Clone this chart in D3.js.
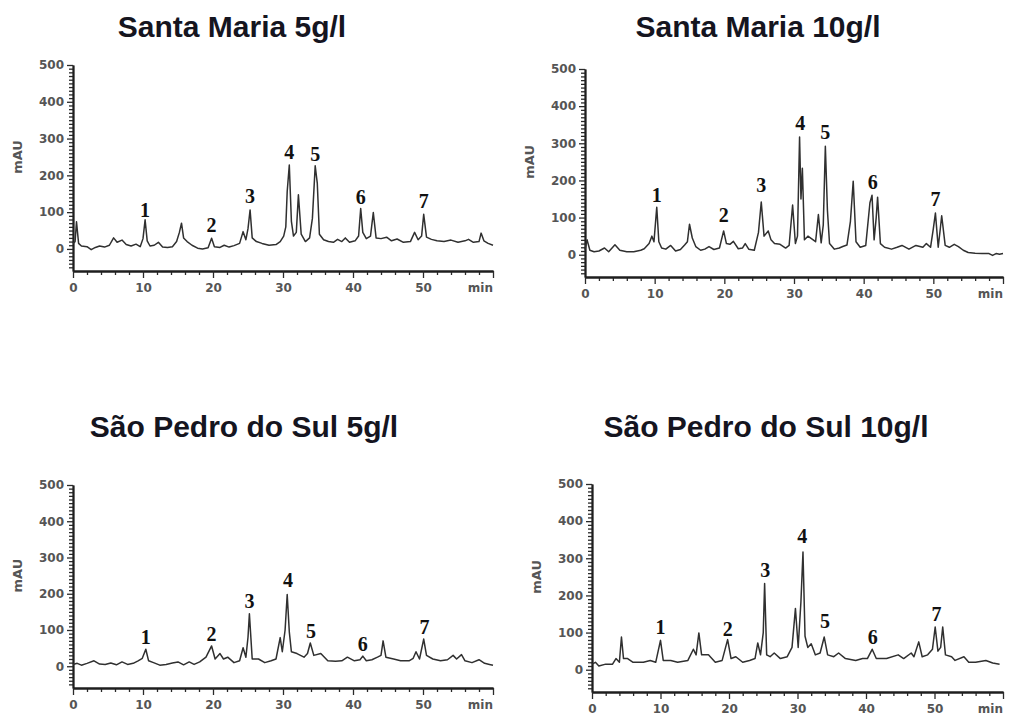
<!DOCTYPE html>
<html>
<head>
<meta charset="utf-8">
<script src="https://cdn.jsdelivr.net/npm/d3@7"></script>
<style>
  body { margin: 0; background: #fff; }
</style>
</head>
<body>
<div id="chart"></div>
<script>
// chromatogram traces, [time (min), absorbance (mAU)]
const santaMaria5 = [[0,15],[0.3,20],[0.5,74],[0.8,15],[1.2,8],[2,6],[2.6,-2],[3.2,4],[3.8,8],[4.5,5],[5.2,10],[5.8,30],[6.3,18],[7,24],[7.6,12],[8.3,8],[9,13],[9.6,6],[10,28],[10.3,79],[10.6,22],[11,8],[11.6,10],[12.2,18],[12.8,5],[13.5,4],[14.2,6],[14.8,20],[15.2,45],[15.5,70],[15.8,30],[16.3,20],[17,10],[17.8,2],[18.5,0],[19.3,3],[19.8,29],[20.2,6],[21,4],[21.6,10],[22.3,5],[23,9],[23.8,15],[24.3,47],[24.7,25],[25,55],[25.3,106],[25.6,30],[26.2,20],[27,15],[28,10],[29,12],[29.6,20],[30.1,35],[30.4,60],[30.6,156],[30.9,228],[31.2,75],[31.5,35],[31.9,45],[32.2,147],[32.6,40],[33.2,20],[33.8,30],[34.2,83],[34.6,226],[34.9,178],[35.2,40],[35.8,25],[36.5,20],[37.2,18],[37.8,26],[38.4,20],[38.9,30],[39.5,18],[40.3,22],[40.8,35],[41.1,110],[41.4,45],[41.9,28],[42.5,35],[42.9,99],[43.3,30],[44,28],[44.8,32],[45.5,22],[46.3,27],[47.2,18],[48.2,20],[48.8,45],[49.3,25],[49.8,35],[50.1,94],[50.5,32],[51.2,26],[52,22],[53,20],[54,24],[55,18],[56,22],[56.5,26],[57.2,18],[58,20],[58.3,43],[58.7,22],[59.3,15],[60,10]]

const santaMaria10 = [[0,14],[0.3,40],[0.7,12],[1.3,8],[2,10],[2.8,18],[3.4,8],[4.3,27],[5,12],[6,8],[7,8],[8,12],[8.5,16],[9.2,30],[9.6,50],[9.9,35],[10.3,128],[10.6,35],[11,18],[11.6,15],[12.3,25],[13,10],[13.7,14],[14.3,26],[14.7,35],[15,82],[15.4,45],[15.9,22],[16.6,12],[17.2,15],[17.8,22],[18.5,14],[19.3,18],[19.9,64],[20.3,30],[20.8,28],[21.3,36],[22,16],[22.6,18],[23,30],[23.5,15],[24.3,12],[24.9,60],[25.3,142],[25.7,50],[26.3,64],[26.7,40],[27.2,30],[28,28],[28.8,18],[29.3,25],[29.8,134],[30.2,30],[30.5,50],[30.8,317],[31,150],[31.2,233],[31.5,40],[32,50],[32.6,42],[33.1,35],[33.5,108],[33.9,32],[34.2,80],[34.5,292],[34.8,119],[35.1,30],[35.8,15],[36.5,18],[37,22],[37.6,26],[38.1,90],[38.5,198],[38.9,35],[39.5,20],[40.3,25],[40.9,140],[41.2,160],[41.5,40],[41.8,100],[42,155],[42.4,30],[43,20],[44,15],[44.8,20],[45.5,25],[46.5,15],[47.5,25],[48.5,20],[49,30],[49.6,20],[50,70],[50.3,112],[50.7,20],[51,70],[51.2,105],[51.7,25],[52.3,20],[53,28],[53.6,22],[54.3,12],[55,6],[56,4],[57,3],[58,3],[58.5,-2],[59,3],[59.5,1],[60,3]]

const saoPedro5 = [[0,5],[0.6,8],[1.2,3],[2,8],[3,15],[3.8,6],[4.6,5],[5.4,9],[6.2,4],[7,12],[7.8,5],[8.6,8],[9.3,15],[9.9,22],[10.4,47],[10.8,15],[11.5,10],[12.4,3],[13.3,5],[14.2,9],[15,12],[15.8,4],[16.6,12],[17.3,5],[18.1,12],[19,25],[19.8,56],[20.3,20],[21,35],[21.5,20],[22.1,25],[23,10],[23.8,15],[24.3,51],[24.7,25],[25,80],[25.2,145],[25.6,20],[26.5,20],[27.4,10],[28.3,15],[29,20],[29.6,79],[29.9,40],[30.3,100],[30.6,198],[30.9,95],[31.2,40],[32,35],[33,25],[33.5,35],[33.9,64],[34.4,30],[35.4,35],[36.4,15],[37.5,14],[38.4,15],[39.2,25],[40.2,15],[41,18],[41.4,28],[41.9,15],[42.7,18],[43.5,25],[44,30],[44.3,70],[44.7,25],[45.8,20],[46.8,15],[48,15],[48.6,22],[49,40],[49.5,20],[50.1,75],[50.5,30],[51.4,20],[52.5,15],[53.5,18],[54.3,30],[54.8,20],[55.5,32],[56,15],[57,10],[58,18],[58.8,8],[59.5,5],[60,3]]

const saoPedro10 = [[0,15],[0.5,20],[1,10],[2,15],[3,15],[3.5,30],[4,20],[4.3,88],[4.6,30],[5.2,30],[6,20],[7.5,20],[8.5,25],[9.3,20],[10,79],[10.4,25],[11.5,25],[12.5,20],[14,25],[14.8,55],[15.2,40],[15.6,99],[16,40],[17,40],[18,20],[19,25],[19.8,81],[20.3,30],[21,35],[22,20],[23,25],[23.8,30],[24.2,72],[24.6,40],[25,100],[25.2,232],[25.5,40],[26,35],[26.6,45],[27.5,30],[28.5,35],[29.2,60],[29.7,165],[30.1,60],[30.5,183],[30.8,317],[31.1,90],[31.5,60],[32,70],[32.6,40],[33.3,45],[33.9,88],[34.4,40],[35.3,35],[36,45],[37,30],[38.5,25],[39.5,30],[40.2,30],[40.9,55],[41.5,30],[43,30],[44.7,40],[45.5,30],[46.6,45],[47,35],[47.7,75],[48.2,35],[49,40],[49.7,55],[50.1,115],[50.5,50],[50.9,60],[51.2,115],[51.6,40],[52.5,35],[53,25],[54.3,35],[55,20],[56,20],[57.5,25],[58.5,18],[59.5,15]]

// numbered peaks: retention time and the mAU level where the number sits
const peakNames = ['1', '2', '3', '4', '5', '6', '7']
const peakTimes = [
  [10.3, 19.8, 25.3, 30.9, 34.6, 41.1, 50.1],
  [10.3, 19.9, 25.3, 30.9, 34.5, 41.3, 50.3],
  [10.4, 19.8, 25.2, 30.7, 34.0, 41.4, 50.2],
  [10.0, 19.8, 25.3, 30.7, 34.0, 41.0, 50.3]
]
const peakLevels = [
  [88, 47, 124, 244, 239, 122, 110],
  [142, 87, 169, 336, 311, 178, 130],
  [61, 70, 161, 220, 79, 42, 89],
  [95, 90, 250, 342, 111, 70, 131]
]

const titles = ['Santa Maria 5g/l', 'Santa Maria 10g/l', 'São Pedro do Sul 5g/l', 'São Pedro do Sul 10g/l']
const traces = [santaMaria5, santaMaria10, saoPedro5, saoPedro10]
const yMajor = [0, 100, 200, 300, 400, 500]
const xMajor = [0, 10, 20, 30, 40, 50, 60]

const width = 1011
const height = 717
const layout = [
  { left: 73, right: 493, top: 65, bottom: 271, titleX: 232, titleY: 37 },
  { left: 585, right: 1003, top: 69, bottom: 277, titleX: 758, titleY: 37 },
  { left: 73, right: 493, top: 485, bottom: 688, titleX: 244, titleY: 437 },
  { left: 592, right: 1003, top: 484, bottom: 692, titleX: 766, titleY: 437 }
]

const svg = d3.select('#chart').append('svg').attr('width', width).attr('height', height)
svg.append('rect').attr('width', width).attr('height', height).attr('fill', '#fff')

const yMinor = d3.range(-50, 500, 10).filter((v) => v % 100 !== 0)
const xMinor = d3.range(2, 60, 2).filter((v) => v % 10 !== 0)

const styleAxis = (g) => {
  g.selectAll('path.domain').attr('stroke', '#1e1e1e').attr('stroke-width', 1.8)
  g.selectAll('.tick line').attr('stroke', '#2a2a2a').attr('stroke-width', 1.3)
  g.selectAll('.tick text')
    .attr('fill', '#555')
    .style('font-family', 'DejaVu Sans')
    .style('font-weight', 'bold')
    .style('font-size', '12px')
}

layout.forEach((box, i) => {
  const x = d3.scaleLinear().domain([0, 60]).range([box.left, box.right])
  const y = d3.scaleLinear().domain([-60, 500]).range([box.bottom, box.top])
  const g = svg.append('g')

  // title
  g.append('text')
    .attr('x', box.titleX)
    .attr('y', box.titleY)
    .attr('text-anchor', 'middle')
    .style('font-family', 'Liberation Sans, Arial, sans-serif')
    .style('font-weight', 'bold')
    .style('font-size', '30px')
    .attr('fill', '#15151f')
    .text(titles[i])

  // y axis
  const yAxisG = g.append('g').attr('transform', `translate(${box.left},0)`)
  yAxisG.append('g').call(d3.axisLeft(y).tickValues(yMinor).tickSize(4).tickSizeOuter(0).tickFormat(''))
  yAxisG.append('g').call(d3.axisLeft(y).tickValues(yMajor).tickSize(6).tickSizeOuter(0).tickPadding(3))
  styleAxis(yAxisG)

  // x axis
  const xAxisG = g.append('g').attr('transform', `translate(0,${box.bottom})`)
  xAxisG.append('g').call(d3.axisBottom(x).tickValues(xMinor).tickSize(4).tickSizeOuter(0).tickFormat(''))
  xAxisG
    .append('g')
    .call(d3.axisBottom(x).tickValues(xMajor).tickSize(7).tickSizeOuter(0).tickPadding(5)
      .tickFormat((d) => (d === 60 ? '' : d)))
  styleAxis(xAxisG)

  xAxisG.append('text')
    .attr('x', x(60))
    .attr('y', 21)
    .attr('text-anchor', 'end')
    .attr('fill', '#555')
    .style('font-family', 'DejaVu Sans')
    .style('font-weight', 'bold')
    .style('font-size', '12px')
    .text('min')

  // y label
  g.append('text')
    .attr('transform', `translate(${box.left - 51},${y(250)}) rotate(-90)`)
    .attr('text-anchor', 'middle')
    .attr('fill', '#555')
    .style('font-family', 'DejaVu Sans')
    .style('font-weight', 'bold')
    .style('font-size', '13px')
    .text('mAU')

  // trace
  const line = d3.line().x((d) => x(d[0])).y((d) => y(d[1]))
  g.append('path')
    .datum(traces[i])
    .attr('d', line)
    .attr('fill', 'none')
    .attr('stroke', '#303030')
    .attr('stroke-width', 1.5)
    .attr('stroke-linejoin', 'round')

  // peak numbers
  g.selectAll('.peak')
    .data(peakNames)
    .enter()
    .append('text')
    .attr('class', 'peak')
    .attr('x', (d, k) => x(peakTimes[i][k]))
    .attr('y', (d, k) => y(peakLevels[i][k]))
    .attr('text-anchor', 'middle')
    .style('font-family', 'Liberation Serif, Times New Roman, serif')
    .style('font-weight', 'bold')
    .style('font-size', '20px')
    .attr('fill', '#111')
    .text((d) => d)
})
</script>
</body>
</html>
